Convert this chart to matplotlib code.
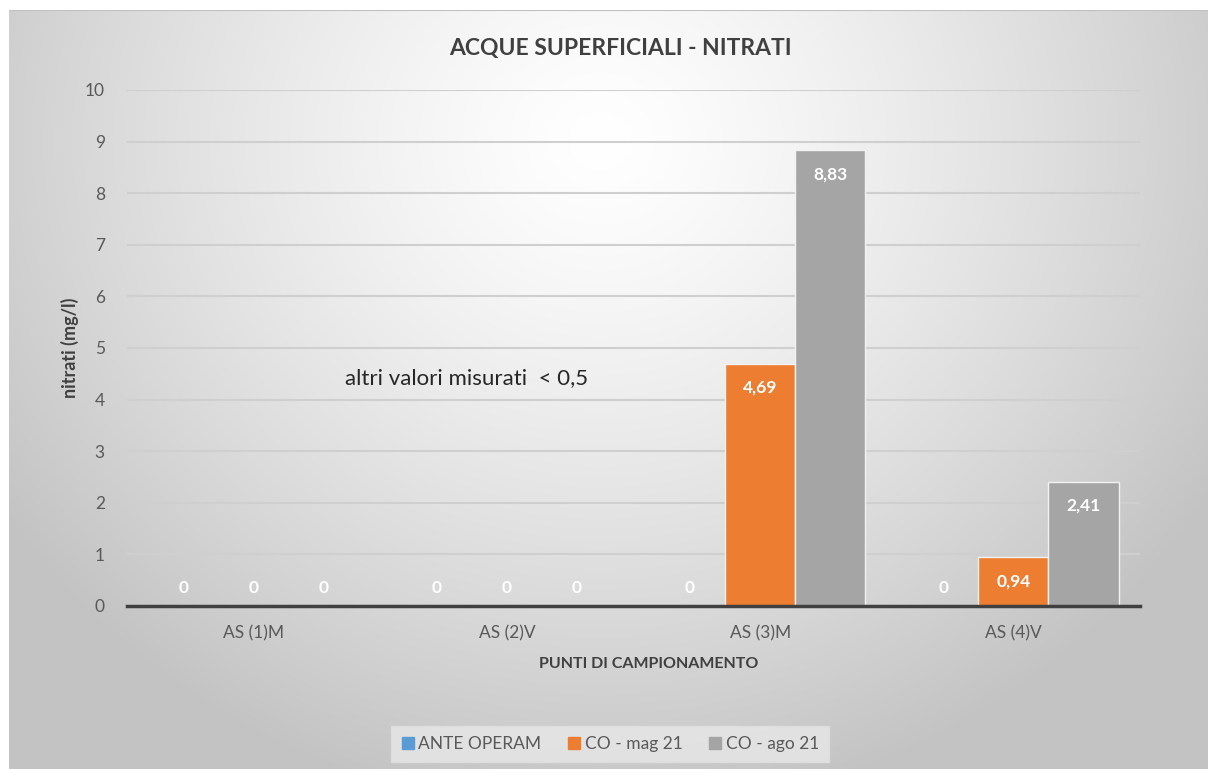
import numpy as np
import matplotlib
matplotlib.use("Agg")
import matplotlib.pyplot as plt
from matplotlib.lines import Line2D

plt.rcParams['font.family'] = ['Lato', 'DejaVu Sans']

categories = ["AS (1)M", "AS (2)V", "AS (3)M", "AS (4)V"]
series_names = ["ANTE OPERAM", "CO - mag 21", "CO - ago 21"]
ante = [0, 0, 0, 0]
co_mag = [0, 0, 4.69, 0.94]
co_ago = [0, 0, 8.83, 2.41]
yticks = list(range(0, 11))

colors = ["#5B9BD5", "#ED7D31", "#A5A5A5"]

W, H = 1208, 769
fig = plt.figure(figsize=(W / 100, H / 100), dpi=100)
fig.patch.set_facecolor("white")

# background gradient panel
bg = fig.add_axes([9 / W, 0, 1 - 9 / W, (H - 10) / H])
bg.set_axis_off()
yy, xx = np.mgrid[10:H, 9:W]
d = np.sqrt(((xx - 600) / 720.0) ** 2 + ((yy - 140) / 680.0) ** 2)
d = np.clip(d, 0, 1)
val = (255 - 60 * d ** 1.3) / 255.0
img = np.dstack([val, val, val])
bg.imshow(img, aspect="auto", extent=[0, 1, 0, 1], origin="upper")
bg.set_xlim(0, 1); bg.set_ylim(0, 1)
bg.plot([0, 1], [1, 1], color="#c0c0c0", lw=1.5, transform=bg.transAxes)

ax = fig.add_axes([127 / W, (H - 606) / H, (1140 - 127) / W, (606 - 90) / H])
ax.patch.set_alpha(0)

x = np.arange(len(categories))
bw = 0.277
series = [ante, co_mag, co_ago]
for i, (vals, c, name) in enumerate(zip(series, colors, series_names)):
    pos = x + (i - 1) * bw
    ax.bar(pos, vals, width=bw, color=c, edgecolor="#f2f2f2", linewidth=1.0,
           label=name, zorder=3)
    for p, v in zip(pos, vals):
        txt = ("%.2f" % v).replace(".", ",") if v != 0 else "0"
        off = -24 if v > 0 else 18
        ax.annotate(txt, (p, v), xytext=(0, off), textcoords="offset pixels",
                    ha="center", va="center", color="white", fontsize=12.5,
                    fontweight="bold", zorder=4)

ax.set_xlim(-0.5, len(categories) - 0.5)
ax.set_ylim(0, 10)
ax.set_yticks(yticks)
ax.set_yticklabels([str(t) for t in yticks], fontsize=12.5, color="#595959")
ax.set_xticks(x)
ax.set_xticklabels(categories, fontsize=12.5, color="#595959")
ax.tick_params(axis="both", length=0)
ax.tick_params(axis="y", pad=16)
ax.tick_params(axis="x", pad=14)
ax.grid(axis="y", color="#cfcfcf", lw=1.5, zorder=0)
for s in ["left", "right", "top"]:
    ax.spines[s].set_visible(False)
ax.spines["bottom"].set_color("#404040")
ax.spines["bottom"].set_linewidth(2.5)
ax.spines["bottom"].set_zorder(5)

ax.set_xlabel("PUNTI DI CAMPIONAMENTO", fontsize=11.5, fontweight="bold",
              color="#404040")
ax.xaxis.set_label_coords(0.515, -0.098)
ax.set_ylabel("nitrati (mg/l)", fontsize=13, fontweight="bold", color="#404040",
              labelpad=4)

fig.text(620 / W, 1 - 48 / H, "ACQUE SUPERFICIALI - NITRATI", ha="center", va="center",
         fontsize=16.5, fontweight="bold", color="#404040")

ax.text(345 / W, 1 - 378 / H, "altri valori misurati  < 0,5", transform=fig.transFigure,
        ha="left", va="center", fontsize=16, color="#262626")

handles = [Line2D([], [], marker="s", linestyle="", markersize=8, color=c) for c in colors]
leg = fig.legend(handles, series_names, loc="center", bbox_to_anchor=(610 / W, 1 - 744 / H),
                 ncol=3, frameon=True, fontsize=12.5, handletextpad=0.2,
                 columnspacing=1.5, handlelength=0.8, borderpad=0.55)
leg.get_frame().set_facecolor("#e8e8e8")
leg.get_frame().set_edgecolor("#e0e0e0")
leg.get_frame().set_boxstyle("square", pad=0)
for t in leg.get_texts():
    t.set_color("#595959")

fig.savefig("out.png", dpi=100)
